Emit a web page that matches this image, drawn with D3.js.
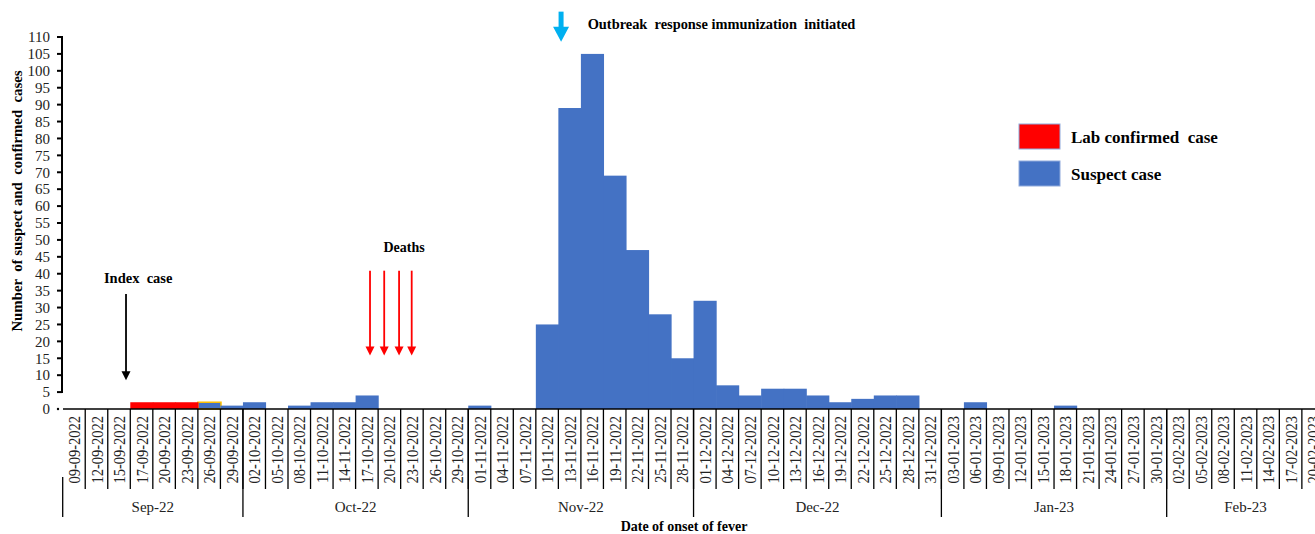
<!DOCTYPE html>
<html>
<head>
<meta charset="utf-8">
<script src="https://cdn.jsdelivr.net/npm/d3@7"></script>
<style>
    body { margin: 0; background: #fff; }
    svg text { font-family: "Liberation Serif", "Times New Roman", serif; }
</style>
</head>
<body>
<div id="chart"></div>
<script>
// categories (date of onset, 3-day bins) -- labels copied as printed
const dates = [
    '09-09-2022', '12-09-2022', '15-09-2022', '17-09-2022', '20-09-2022', '23-09-2022', '26-09-2022', '29-09-2022',
    '02-10-2022', '05-10-2022', '08-10-2022', '11-10-2022', '14-11-2022', '17-10-2022', '20-10-2022', '23-10-2022', '26-10-2022', '29-10-2022',
    '01-11-2022', '04-11-2022', '07-11-2022', '10-11-2022', '13-11-2022', '16-11-2022', '19-11-2022', '22-11-2022', '25-11-2022', '28-11-2022',
    '01-12-2022', '04-12-2022', '07-12-2022', '10-12-2022', '13-12-2022', '16-12-2022', '19-12-2022', '22-12-2022', '25-12-2022', '28-12-2022', '31-12-2022',
    '03-01-2023', '06-01-2023', '09-01-2023', '12-01-2023', '15-01-2023', '18-01-2023', '21-01-2023', '24-01-2023', '27-01-2023', '30-01-2023',
    '02-02-2023', '05-02-2023', '08-02-2023', '11-02-2023', '14-02-2023', '17-02-2023', '20-02-2023'
];
const months = ['Sep-22', 'Oct-22', 'Nov-22', 'Dec-22', 'Jan-23', 'Feb-23'];
const monthSizes = [8, 10, 10, 11, 10, 7];

const confirmed = [0, 0, 0, 2, 2, 2, 0, 0, 0, 0, 0, 0, 0, 0, 0, 0, 0, 0, 0, 0, 0, 0, 0, 0, 0, 0, 0, 0,
    0, 0, 0, 0, 0, 0, 0, 0, 0, 0, 0, 0, 0, 0, 0, 0, 0, 0, 0, 0, 0, 0, 0, 0, 0, 0, 0, 0];
const suspect = [0, 0, 0, 0, 0, 0, 2, 1, 2, 0, 1, 2, 2, 4, 0, 0, 0, 0, 1, 0, 0, 25, 89, 105, 69, 47, 28, 15,
    32, 7, 4, 6, 6, 4, 2, 3, 4, 4, 0, 0, 2, 0, 0, 0, 1, 0, 0, 0, 0, 0, 0, 0, 0, 0, 0, 0];
const outlinedDate = '26-09-2022';

const yTicks = d3.range(0, 111, 5);
const legendItems = [
    { label: 'Lab confirmed  case', color: '#ff0000' },
    { label: 'Suspect case', color: '#4472c4' }
];

const width = 1315, height = 534;
const svg = d3.select('#chart').append('svg')
    .attr('width', width)
    .attr('height', height);

const x = d3.scaleBand()
    .domain(dates)
    .range([62.7, 1324.4])
    .padding(0);
const y = d3.scaleLinear()
    .domain([0, 110])
    .range([409, 37]);

// fractional category position -> pixel
const xAt = idx => x.range()[0] + idx * x.step();

// bars (slight overlap so no seams between neighbours)
const barG = svg.append('g');
barG.selectAll('rect.suspect')
    .data(dates.map((d, i) => ({ d, v: suspect[i] })).filter(e => e.v > 0))
    .join('rect')
    .attr('class', 'suspect')
    .attr('x', e => x(e.d))
    .attr('y', e => y(e.v))
    .attr('width', x.bandwidth() + 0.6)
    .attr('height', e => y(0) - y(e.v))
    .attr('fill', '#4472c4')
    .attr('stroke', e => e.d === outlinedDate ? '#ffc000' : 'none')
    .attr('stroke-width', 1.5);
barG.selectAll('rect.confirmed')
    .data(dates.map((d, i) => ({ d, v: confirmed[i] })).filter(e => e.v > 0))
    .join('rect')
    .attr('class', 'confirmed')
    .attr('x', e => x(e.d))
    .attr('y', e => y(e.v))
    .attr('width', x.bandwidth() + 0.6)
    .attr('height', e => y(0) - y(e.v))
    .attr('fill', '#ff0000');

// y axis
const yAxis = svg.append('g');
yAxis.append('line')
    .attr('x1', 62).attr('x2', 62)
    .attr('y1', y(110) - 1).attr('y2', y(5) + 1)
    .attr('stroke', '#000').attr('stroke-width', 2);
yAxis.selectAll('line.tick')
    .data(yTicks.filter(t => t > 0))
    .join('line')
    .attr('class', 'tick')
    .attr('x1', 57).attr('x2', 62)
    .attr('y1', d => y(d)).attr('y2', d => y(d))
    .attr('stroke', '#000').attr('stroke-width', 2);
yAxis.append('circle')
    .attr('cx', 58).attr('cy', y(0)).attr('r', 1.2).attr('fill', '#000');
yAxis.selectAll('text')
    .data(yTicks)
    .join('text')
    .attr('x', 50)
    .attr('y', d => y(d))
    .attr('dy', '0.35em')
    .attr('text-anchor', 'end')
    .attr('font-size', 15)
    .attr('fill', '#222')
    .text(d => d);

svg.append('text')
    .attr('transform', 'translate(22,201) rotate(-90)')
    .attr('text-anchor', 'middle')
    .attr('font-size', 14.8)
    .attr('font-weight', 'bold')
    .attr('xml:space', 'preserve')
    .text('Number  of suspect and  confirmed  cases');

// x axis: baseline, category separators, rotated labels
const xAxis = svg.append('g');
xAxis.append('line')
    .attr('x1', 63).attr('x2', width)
    .attr('y1', y(0)).attr('y2', y(0))
    .attr('stroke', '#000').attr('stroke-width', 1.5);
xAxis.selectAll('line.sep')
    .data(dates.slice(1))
    .join('line')
    .attr('class', 'sep')
    .attr('x1', d => x(d)).attr('x2', d => x(d))
    .attr('y1', y(0)).attr('y2', 489)
    .attr('stroke', '#000').attr('stroke-width', 1.3);
xAxis.selectAll('text.date')
    .data(dates)
    .join('text')
    .attr('class', 'date')
    .attr('transform', d => `translate(${x(d) + x.bandwidth() / 2},416) rotate(-90) scale(1,1.2)`)
    .attr('dy', '0.35em')
    .attr('text-anchor', 'end')
    .attr('font-size', 14.5)
    .attr('fill', '#222')
    .text(d => d);

// month groups
let start = 0;
const monthData = months.map((m, i) => {
    const o = { m, i0: start, i1: start + monthSizes[i] };
    start += monthSizes[i];
    return o;
});
xAxis.selectAll('line.month')
    .data(monthData)
    .join('line')
    .attr('class', 'month')
    .attr('x1', d => xAt(d.i0)).attr('x2', d => xAt(d.i0))
    .attr('y1', (d, i) => i === 0 ? 477 : y(0)).attr('y2', 517)
    .attr('stroke', '#000').attr('stroke-width', 1.3);
xAxis.selectAll('text.month')
    .data(monthData)
    .join('text')
    .attr('class', 'month')
    .attr('x', d => (xAt(d.i0) + xAt(d.i1)) / 2)
    .attr('y', 512)
    .attr('text-anchor', 'middle')
    .attr('font-size', 15)
    .attr('fill', '#222')
    .text(d => d.m);

svg.append('text')
    .attr('x', 684)
    .attr('y', 531)
    .attr('text-anchor', 'middle')
    .attr('font-size', 14)
    .attr('font-weight', 'bold')
    .text('Date of onset of fever');

// legend
const legend = svg.append('g');
legendItems.forEach((item, i) => {
    legend.append('rect')
        .attr('x', 1019).attr('y', 124 + i * 37)
        .attr('width', 41).attr('height', 25)
        .attr('fill', item.color)
        .attr('stroke', '#8faadc').attr('stroke-width', 1);
    legend.append('text')
        .attr('x', 1071).attr('y', 143 + i * 37)
        .attr('font-size', 17)
        .attr('font-weight', 'bold')
        .attr('xml:space', 'preserve')
        .text(item.label);
});

// annotations
function arrow(cx, v1, v2, color, shaftW, headW, headL) {
    const y1 = y(v1), y2 = y(v2);
    svg.append('line')
        .attr('x1', cx).attr('x2', cx)
        .attr('y1', y1).attr('y2', y2 - headL + 1)
        .attr('stroke', color).attr('stroke-width', shaftW);
    svg.append('path')
        .attr('d', `M${cx - headW / 2},${y2 - headL} L${cx + headW / 2},${y2 - headL} L${cx},${y2} Z`)
        .attr('fill', color);
}

function label(cx, v, txt, size, anchor) {
    svg.append('text')
        .attr('x', cx).attr('y', y(v))
        .attr('text-anchor', anchor)
        .attr('font-size', size)
        .attr('font-weight', 'bold')
        .attr('xml:space', 'preserve')
        .text(txt);
}

// index case
arrow(xAt(2.81), 34, 8.5, '#000', 1.8, 9, 9);
label(xAt(3.35), 37.4, 'Index  case', 14.5, 'middle');

// deaths
[13.64, 14.27, 14.93, 15.49].forEach(p => arrow(xAt(p), 40.9, 15.8, '#ff0000', 1.8, 9, 9));
label(xAt(15.15), 46.3, 'Deaths', 14, 'middle');

// outbreak response immunization
arrow(xAt(22.12), 117.5, 108.6, '#00b0f0', 5, 16, 15);
label(xAt(23.3), 112.4, 'Outbreak  response immunization  initiated', 14.4, 'start');
</script>
</body>
</html>
